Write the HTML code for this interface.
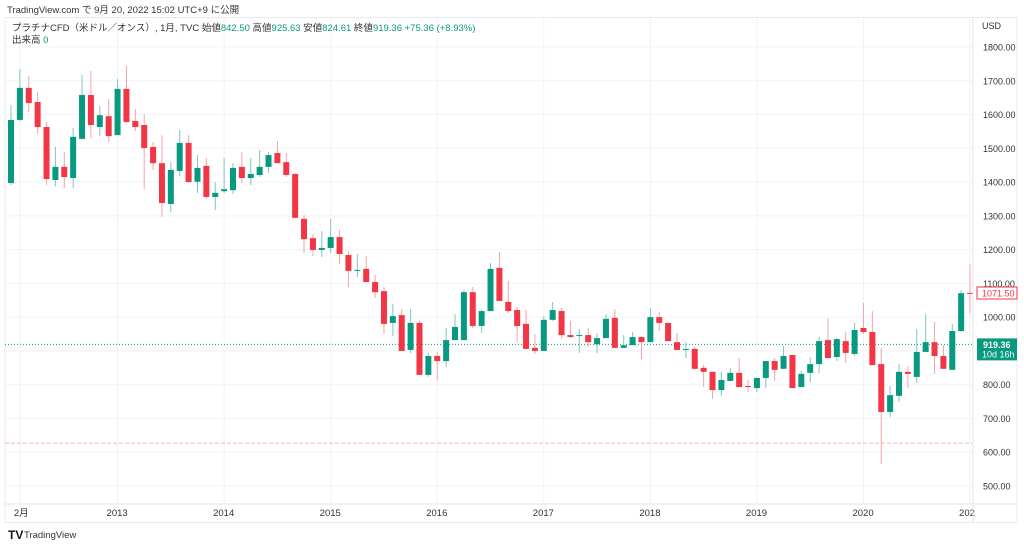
<!DOCTYPE html>
<html><head><meta charset="utf-8"><style>
body{margin:0;width:1024px;height:546px;background:#fff;overflow:hidden;font-family:"Liberation Sans","Noto Sans CJK JP",sans-serif;}
svg{position:absolute;left:0;top:0}
</style></head><body>
<svg id="chart" width="1024" height="546">
<text x="7" y="13" font-size="9.5" fill="#333">TradingView.com で 9月 20, 2022 15:02 UTC+9 に公開</text>
<rect x="5" y="17.5" width="1012" height="505" fill="none" stroke="#e8e8ee"/>
<g id="grid"></g>
<g id="lines"></g>
<g id="candles"></g>
<g id="axis"></g>
<text x="12" y="31" font-size="9.5" fill="#333">プラチナCFD（米ドル／オンス）, 1月, TVC  始値<tspan fill="#089981">842.50</tspan> 高値<tspan fill="#089981">925.63</tspan> 安値<tspan fill="#089981">824.61</tspan> 終値<tspan fill="#089981">919.36 +75.36 (+8.93%)</tspan></text>
<text x="12" y="43" font-size="9.5" fill="#333">出来高 <tspan fill="#089981">0</tspan></text>
<text x="982" y="29" font-size="9" fill="#333">USD</text>
<text x="8" y="539" font-size="12" font-weight="bold" fill="#131722">TV</text>
<text x="24" y="538" font-size="9.5" fill="#333">TradingView</text>
</svg>
<script>
const opens=[1397,1584,1679,1637,1563,1406,1445,1412,1528,1658,1563,1595,1539,1676,1581,1569,1504,1456,1335,1433,1516,1401,1448,1356,1373,1376,1445,1412,1421,1445,1486,1459,1424,1291,1234,1199,1205,1237,1184,1137,1143,1104,1077,983,1006,903,983,829,885,870,932,932,1074,974,1018,1146,1045,1021,980,909,900,992,1018,947,944,947,920,938,998,909,917,941,926,1000,983,926,903,906,850,838,784,811,835,796,790,820,870,847,888,793,835,861,932,882,929,891,968,956,861,719,767,838,823,897,926,885,844,959,1072];
const highs=[1628,1735,1714,1667,1578,1504,1489,1560,1717,1729,1625,1646,1705,1744,1616,1602,1519,1539,1460,1554,1539,1480,1471,1400,1471,1456,1489,1471,1495,1489,1522,1486,1427,1303,1246,1255,1291,1258,1196,1187,1181,1125,1089,1039,1024,1024,989,894,897,968,1009,1080,1089,1024,1160,1193,1107,1030,1021,950,1003,1045,1027,989,965,968,953,1009,1024,947,956,944,1027,1015,983,953,926,912,859,838,838,850,879,814,820,870,879,915,888,841,882,941,997,938,956,983,1042,1018,909,796,861,855,965,1009,986,917,980,1080,1156];
const lows=[1391,1580,1608,1542,1391,1388,1382,1382,1525,1530,1536,1519,1539,1575,1551,1380,1436,1297,1311,1418,1400,1368,1350,1317,1368,1365,1397,1391,1415,1427,1456,1415,1294,1190,1181,1178,1190,1157,1089,1119,1104,1057,950,944,900,894,829,823,814,852,932,935,968,953,1018,1048,1012,926,906,891,900,989,935,938,894,912,894,938,909,909,917,876,926,959,929,903,879,844,793,758,767,811,793,778,778,790,811,847,790,793,808,835,879,870,864,885,950,858,565,704,749,790,805,897,832,847,844,956,1012];
const closes=[1584,1679,1634,1563,1409,1445,1415,1534,1658,1569,1598,1536,1676,1578,1563,1501,1456,1338,1436,1516,1400,1442,1356,1368,1379,1442,1412,1424,1445,1480,1456,1421,1294,1231,1199,1205,1237,1187,1137,1140,1104,1074,980,1003,900,983,829,885,870,932,971,1074,974,1018,1143,1048,1018,974,906,900,992,1021,947,941,947,926,938,995,909,917,941,926,1000,983,929,903,906,847,838,784,814,835,793,793,820,870,844,885,790,832,861,929,879,935,894,962,956,858,719,769,838,832,897,926,885,847,959,1071,1071.5];
const priceTicks=[500,600,700,800,900,1000,1100,1200,1300,1400,1500,1600,1700,1800];
const timeLabels=["2月","2013","2014","2015","2016","2017","2018","2019","2020","202"];
const timeLabelIdx=[1,12,24,36,48,60,72,84,96,108];
const lastPrice=919.36, refLine=627;
const NS="http://www.w3.org/2000/svg";
const yS=p=>47+(1800-p)*(439/1300);
const xS=i=>11+i*8.88;
function mk(tag,attrs,parent){const e=document.createElementNS(NS,tag);for(const k in attrs)e.setAttribute(k,attrs[k]);parent.appendChild(e);return e;}
const grid=document.getElementById('grid'),axis=document.getElementById('axis'),lines=document.getElementById('lines'),cg=document.getElementById('candles');
priceTicks.forEach(p=>{const y=yS(p);
 const l=mk('line',{x1:5,x2:973,y1:y,y2:y,stroke:'#f0f3fa'},grid);
 
 
 const t=mk('text',{x:983,y:y+3.5,'font-size':9,fill:'#333'},axis);t.textContent=p.toFixed(2);
 
 
});
timeLabels.forEach((s,k)=>{const x=xS(timeLabelIdx[k]);
 const l=mk('line',{x1:x,x2:x,y1:18,y2:504,stroke:'#f0f3fa'},grid);
 
 
 const t=mk('text',{x:k==0?x-6:x-11,y:516,'font-size':9.5,fill:'#333'},axis);t.textContent=s;
 
 
});
let a=mk('line',{x1:973,x2:973,y1:18,y2:522,stroke:'#e0e3eb'},axis);


a=mk('line',{x1:5,x2:1017,y1:504,y2:504,stroke:'#e0e3eb'},axis);


let l1=mk('line',{x1:5,x2:973,y1:yS(lastPrice),y2:yS(lastPrice),stroke:'#089981','stroke-dasharray':'1 2','stroke-width':1},lines);


let l2=mk('line',{x1:5,x2:973,y1:yS(refLine),y2:yS(refLine),stroke:'#f5b5bb','stroke-dasharray':'4 2','stroke-width':1},lines);


opens.forEach((o,i)=>{const c=closes[i],up=c>=o,col=up?'#089981':'#f23645',x=xS(i);
 const w=mk('line',{x1:x,x2:x,y1:yS(highs[i]),y2:yS(lows[i]),stroke:up?'#7cc8bb':'#f7a1a9','stroke-width':1},cg);
 
 
 const t=yS(Math.max(o,c)),b=yS(Math.min(o,c));
 const r=mk('rect',{x:x-3,y:t,width:6,height:Math.max(1,b-t),fill:col},cg);
 
 
});
// price labels
const y1=yS(closes[closes.length-1]);
let r1=mk('rect',{x:977,y:y1-6,width:40,height:12,fill:'#fff',stroke:'#f23645'},axis);


let t1=mk('text',{x:982,y:y1+3.5,'font-size':9,fill:'#f23645'},axis);t1.textContent='1071.50';


const y2=yS(lastPrice);
let r2=mk('rect',{x:977,y:y2-6,width:40,height:22,fill:'#089981'},axis);


let t2=mk('text',{x:983,y:y2+3.5,'font-size':9,'font-weight':'bold',fill:'#fff'},axis);t2.textContent=lastPrice.toFixed(2);


let t3=mk('text',{x:982,y:y2+13,'font-size':9,fill:'#fff'},axis);t3.textContent='10d 16h';


</script>
</body></html>
